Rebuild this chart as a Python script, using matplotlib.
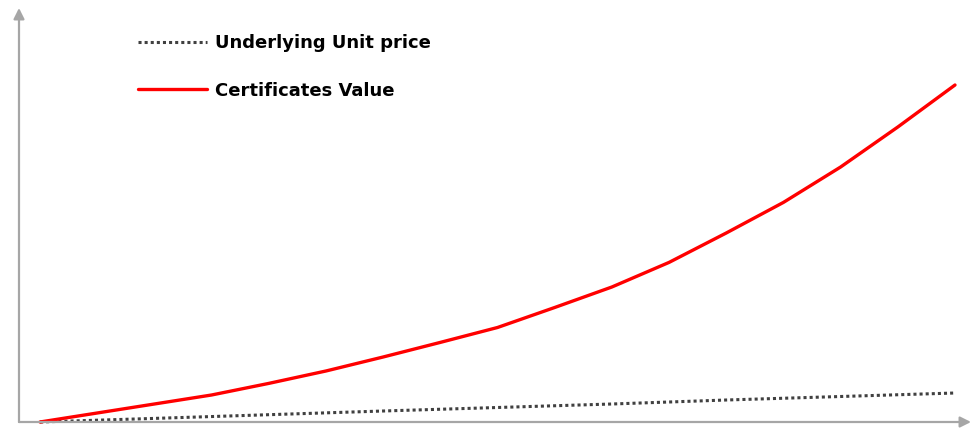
import matplotlib
matplotlib.use("Agg")
import matplotlib.pyplot as plt

# Data (arbitrary units)
periods = [0, 0.5, 1, 1.5, 2, 2.5, 3, 3.5, 4, 4.5, 5, 5.5, 6, 6.5, 7, 7.5, 8]
certificates_value = [0, 9, 18, 27, 38.6, 51, 65, 79.6, 94.5, 114.5, 135,
                      159.6, 189, 219.6, 255, 295, 337]
underlying_periods = [0, 1, 2, 3, 4, 5, 6, 7, 8]
underlying_price = [0, 3.6, 7.3, 11, 14.5, 18, 22, 25.5, 29]
labels = ["Underlying Unit price", "Certificates Value"]

W, H = 971, 428
fig = plt.figure(figsize=(W / 100, H / 100), dpi=100)
left_px, bottom_px, right_px, top_px = 19, 422, 971, 8
ax = fig.add_axes([left_px / W, (H - bottom_px) / H,
                   (right_px - left_px) / W, (bottom_px - top_px) / H])

px_per_unit = (955 - 40) / 8
ax.set_xlim(-(40 - left_px) / px_per_unit, (right_px - 40) / px_per_unit)
ax.set_ylim(0, bottom_px - top_px)

ax.plot(underlying_periods, underlying_price, color="#404040", lw=2.2,
        linestyle=(0, (1, 1)), dash_capstyle="butt", label=labels[0], clip_on=False)
ax.plot(periods, certificates_value, color="#ff0000", lw=2.4,
        label=labels[1], clip_on=False, solid_capstyle="round",
        solid_joinstyle="round")

for s in ax.spines.values():
    s.set_visible(False)
ax.set_xticks([])
ax.set_yticks([])

arrow_kw = dict(arrowstyle="-|>", color="#a6a6a6", lw=1.6, mutation_scale=16,
                shrinkA=0, shrinkB=0)
ax.annotate("", xy=(1, 0), xytext=(0, 0), xycoords="axes fraction",
            arrowprops=arrow_kw, annotation_clip=False)
ax.annotate("", xy=(0, 1), xytext=(0, 0), xycoords="axes fraction",
            arrowprops=arrow_kw, annotation_clip=False)

leg = ax.legend(loc="upper left", bbox_to_anchor=(129 / W, 1 - 25 / H),
                bbox_transform=fig.transFigure, frameon=False, borderpad=0,
                handlelength=3.8, handletextpad=0.45, labelspacing=1.64,
                prop=dict(family="DejaVu Sans", weight="bold", size=13))

fig.savefig("out.png", dpi=100)
